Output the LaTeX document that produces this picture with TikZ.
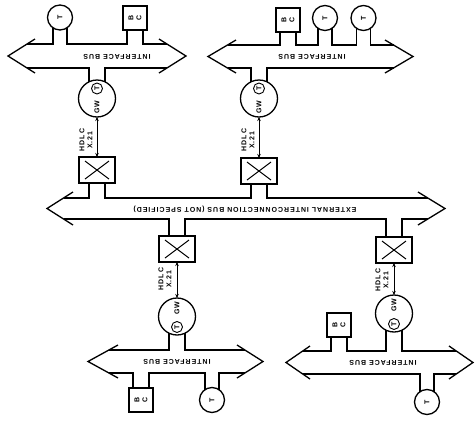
\documentclass[tikz,border=0pt]{standalone}
\usepackage{fontspec}
\usepackage{graphicx}
\newfontfamily\lblfont[LetterSpace=14]{Liberation Sans Bold}
\usetikzlibrary{calc,arrows.meta}
\newcommand\lblsize{\lblfont\fontsize{7}{8}\selectfont}
\begin{document}
\begin{tikzpicture}[x=1pt,y=-1pt,line width=1.3pt,
  lbl/.style={font=\lblsize,inner sep=0pt},
  term/.style={circle,draw,minimum size=25pt,inner sep=0pt,outer sep=0pt,font=\lblsize},
  bcbox/.style={rectangle,draw,minimum width=24pt,minimum height=24pt,inner sep=0pt,outer sep=0pt,font=\lblsize},
  gw/.style={circle,draw,minimum size=37pt,inner sep=0pt,outer sep=0pt},
  gwterm/.style={circle,draw,line width=0.9pt,minimum size=11pt,inner sep=0pt,font=\lblsize},
  sw/.style={rectangle,draw,minimum width=36pt,minimum height=26pt,inner sep=0pt,outer sep=0pt,
    path picture={\draw[line width=1pt]
      ([shift={(6pt,4pt)}]path picture bounding box.south west) -- ([shift={(-6pt,-4pt)}]path picture bounding box.north east)
      ([shift={(6pt,-4pt)}]path picture bounding box.north west) -- ([shift={(-6pt,4pt)}]path picture bounding box.south east);}},
  link/.style={line width=0.8pt,{Stealth[length=4pt,width=3.5pt]}-{Stealth[length=4pt,width=3.5pt]}}
]
\useasboundingbox (0,0) rectangle (475,421);

% ---------- stations on the upper left interface bus
\node[term] (tA1) at (60,17.5) {\rotatebox{90}{T}};
\node[bcbox] (bA1) at (135,18) {\rotatebox{90}{\shortstack{B\\C}}};
\node[gw] (gA) at (97,98.5) {};
\node[gwterm] (gAt) at (97,88.5) {\rotatebox{90}{T}};
\node[lbl,rotate=90] (gAl) at (97,107) {GW};

% ---------- stations on the upper right interface bus
\node[bcbox] (bB1) at (288,20) {\rotatebox{90}{\shortstack{B\\C}}};
\node[term] (tB1) at (325,18) {\rotatebox{90}{T}};
\node[term] (tB2) at (363.5,18) {\rotatebox{90}{T}};
\node[gw] (gB) at (259,98.5) {};
\node[gwterm] (gBt) at (259,88.5) {\rotatebox{90}{T}};
\node[lbl,rotate=90] (gBl) at (259,107) {GW};

% ---------- switching nodes on the external bus
\node[sw] (sA) at (97,170) {};
\node[sw] (sB) at (259,171) {};
\node[sw] (sC) at (177,249) {};
\node[sw] (sD) at (394,250) {};

% ---------- stations on the lower left interface bus
\node[gw] (gC) at (177,316.5) {};
\node[gwterm] (gCt) at (177,327) {\rotatebox{90}{T}};
\node[lbl,rotate=90] (gCl) at (177,308) {GW};
\node[bcbox] (bC1) at (141,400) {\rotatebox{90}{\shortstack{B\\C}}};
\node[term] (tC1) at (212,400) {\rotatebox{90}{T}};

% ---------- stations on the lower right interface bus
\node[bcbox] (bD1) at (339,325) {\rotatebox{90}{\shortstack{B\\C}}};
\node[gw] (gD) at (394,313.5) {};
\node[gwterm] (gDt) at (394,324) {\rotatebox{90}{T}};
\node[lbl,rotate=90] (gDl) at (394,305) {GW};
\node[term] (tD1) at (427,402) {\rotatebox{90}{T}};

% stem feet of the square boxes
\coordinate (bA1l) at ($(bA1.south)+(-8,0)$);
\coordinate (bA1r) at ($(bA1.south)+(8,0)$);
\coordinate (bB1l) at ($(bB1.south)+(-8,0)$);
\coordinate (bB1r) at ($(bB1.south)+(8,0)$);
\coordinate (bC1l) at ($(bC1.north)+(-8,0)$);
\coordinate (bC1r) at ($(bC1.north)+(8,0)$);
\coordinate (bD1l) at ($(bD1.south)+(-8,0)$);
\coordinate (bD1r) at ($(bD1.south)+(8,0)$);
\coordinate (sAl) at ($(sA.south)+(-8,0)$);
\coordinate (sAr) at ($(sA.south)+(8,0)$);
\coordinate (sBl) at ($(sB.south)+(-8,0)$);
\coordinate (sBr) at ($(sB.south)+(8,0)$);
\coordinate (sCl) at ($(sC.north)+(-8,0)$);
\coordinate (sCr) at ($(sC.north)+(8,0)$);
\coordinate (sDl) at ($(sD.north)+(-8,0)$);
\coordinate (sDr) at ($(sD.north)+(8,0)$);

% ---------- upper left interface bus
\draw (35,39) -- (8,56) -- (35,73);
\draw (159,39) -- (186,56) -- (159,73);
\draw (27.1,44) -- (tA1.236 |- 0,44) -- (tA1.236);
\draw (tA1.304) -- (tA1.304 |- 0,44) -- (bA1l |- 0,44) -- (bA1l);
\draw (bA1r) -- (bA1r |- 0,44) -- (166.9,44);
\draw (27.1,68) -- (gA.116 |- 0,68) -- (gA.116);
\draw (gA.64) -- (gA.64 |- 0,68) -- (166.9,68);
\node[lbl,rotate=180] (busA) at (117,57) {INTERFACE BUS};

% ---------- upper right interface bus
\draw (236,40) -- (208,56.5) -- (236,73);
\draw (385,40) -- (413,56.5) -- (385,73);
\draw (227.5,45) -- (bB1l |- 0,45) -- (bB1l);
\draw (bB1r) -- (bB1r |- 0,45) -- (tB1.236 |- 0,45) -- (tB1.236);
\draw (tB1.304) -- (tB1.304 |- 0,45) -- (tB2.236 |- 0,45) -- (tB2.236);
\draw (tB2.304) -- (tB2.304 |- 0,45) -- (393.5,45);
\draw (227.5,68) -- (gB.116 |- 0,68) -- (gB.116);
\draw (gB.64) -- (gB.64 |- 0,68) -- (393.5,68);
\node[lbl,rotate=180] (busB) at (312,57) {INTERFACE BUS};

% ---------- external interconnection bus
\draw (73,192) -- (47,208.5) -- (73,225);
\draw (418,192) -- (445,208.5) -- (418,225);
\draw (63.5,198) -- (sAl |- 0,198) -- (sAl);
\draw (sAr) -- (sAr |- 0,198) -- (sBl |- 0,198) -- (sBl);
\draw (sBr) -- (sBr |- 0,198) -- (427.8,198);
\draw (63.5,219) -- (sCl |- 0,219) -- (sCl);
\draw (sCr) -- (sCr |- 0,219) -- (sDl |- 0,219) -- (sDl);
\draw (sDr) -- (sDr |- 0,219) -- (427.8,219);
\node[lbl,rotate=180] (busX) at (245,209) {EXTERNAL INTERCONNECTION BUS (NOT SPECIFIED)};

% ---------- lower left interface bus
\draw (118,345) -- (88,361.5) -- (118,378);
\draw (237,345) -- (263,361.5) -- (237,378);
\draw (108.9,350) -- (gC.244 |- 0,350) -- (gC.244);
\draw (gC.296) -- (gC.296 |- 0,350) -- (244.9,350);
\draw (108.9,373) -- (bC1l |- 0,373) -- (bC1l);
\draw (bC1r) -- (bC1r |- 0,373) -- (tC1.124 |- 0,373) -- (tC1.124);
\draw (tC1.56) -- (tC1.56 |- 0,373) -- (244.9,373);
\node[lbl,rotate=180] (busC) at (177,361.5) {INTERFACE BUS};

% ---------- lower right interface bus
\draw (310,346) -- (286,362.5) -- (310,379);
\draw (449,346) -- (473,362.5) -- (449,379);
\draw (302.7,351) -- (bD1l |- 0,351) -- (bD1l);
\draw (bD1r) -- (bD1r |- 0,351) -- (gD.244 |- 0,351) -- (gD.244);
\draw (gD.296) -- (gD.296 |- 0,351) -- (456.3,351);
\draw (302.7,374) -- (tD1.124 |- 0,374) -- (tD1.124);
\draw (tD1.56) -- (tD1.56 |- 0,374) -- (456.3,374);
\node[lbl,rotate=180] (busD) at (383,362.5) {INTERFACE BUS};

% ---------- HDLC / X.21 links between gateways and switching nodes
\draw[link] (gA.south) -- (sA.north);
\draw[link] (gB.south) -- (sB.north);
\draw[link] (sC.south) -- (gC.north);
\draw[link] (sD.south) -- (gD.north);
\node[lbl,rotate=90,align=center] (hA) at (86,140) {HDLC\\X.21};
\node[lbl,rotate=90,align=center] (hB) at (248,140) {HDLC\\X.21};
\node[lbl,rotate=90,align=center] (hC) at (165,279) {HDLC\\X.21};
\node[lbl,rotate=90,align=center] (hD) at (382,280) {HDLC\\X.21};
\end{tikzpicture}
\end{document}
